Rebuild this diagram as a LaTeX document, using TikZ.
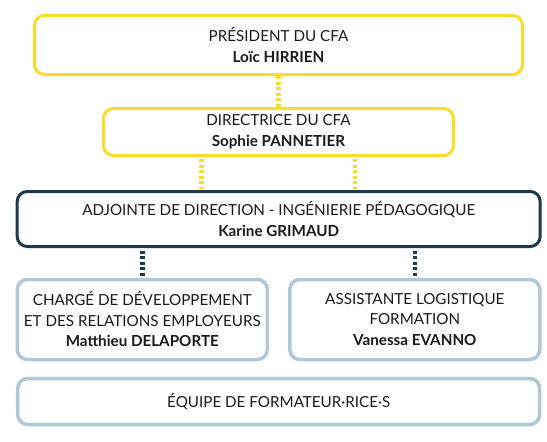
\documentclass[tikz,border=0pt]{standalone}
\usepackage{fontspec}
\setmainfont{Lato}
\usetikzlibrary{calc}
\definecolor{cyel}{HTML}{FADC2A}
\definecolor{cnavy}{HTML}{1C3A4C}
\definecolor{clight}{HTML}{AECAD6}
\definecolor{ctext}{HTML}{1A1A1A}
\tikzset{
  box/.style={rectangle, rounded corners=10pt, line width=3pt, fill=white,
    align=center, text=ctext, inner sep=0pt,
    font=\fontsize{15.2}{20.5}\selectfont},
  ybox/.style={box, draw=cyel},
  nbox/.style={box, draw=cnavy},
  lbox/.style={box, draw=clight, line width=3.5pt},
  ydot/.style={draw=cyel, line width=4.5pt, dash pattern=on 3pt off 2.5pt},
  ndot/.style={draw=cnavy, line width=4.5pt, dash pattern=on 3pt off 2.5pt},
}
\begin{document}
\begin{tikzpicture}[x=1pt,y=-1pt]
\useasboundingbox (0,0) rectangle (547,442);
\node[ybox, minimum width=488pt, minimum height=59pt] (b1) at (278.5,45)
  {PRÉSIDENT DU CFA\\\textbf{Loïc HIRRIEN}};
\node[ybox, minimum width=350pt, minimum height=47pt] (b2) at (278.5,132)
  {DIRECTRICE DU CFA\\\textbf{Sophie PANNETIER}};
\node[nbox, minimum width=523pt, minimum height=55pt] (b3) at (278.7,219)
  {ADJOINTE DE DIRECTION - INGÉNIERIE PÉDAGOGIQUE\\\textbf{Karine GRIMAUD}};
\node[lbox, minimum width=250pt, minimum height=80pt] (b4) at (142.3,319.5)
  {CHARGÉ DE DÉVELOPPEMENT\\ET DES RELATIONS EMPLOYEURS\\\textbf{Matthieu DELAPORTE}};
\node[lbox, minimum width=250pt, minimum height=80pt] (b5) at (414.8,319.5)
  {ASSISTANTE LOGISTIQUE\\FORMATION\\\textbf{Vanessa EVANNO}};
\node[lbox, minimum width=522pt, minimum height=46pt] (b6) at (278.7,401.5)
  {ÉQUIPE DE FORMATEUR·RICE·S};
\draw[ydot] (b1.south) -- (b2.north);
\draw[ydot, shorten <=2pt, shorten >=1pt] ([xshift=-77pt]b2.south) -- ([xshift=-77pt]b2.south |- b3.north);
\draw[ydot, shorten <=2pt, shorten >=1pt] ([xshift=76.5pt]b2.south) -- ([xshift=76.5pt]b2.south |- b3.north);
\draw[ndot, shorten <=2.5pt, shorten >=1.5pt] (b3.south -| b4.north) -- (b4.north);
\draw[ndot, shorten <=2.5pt, shorten >=1.5pt] (b3.south -| b5.north) -- (b5.north);
\end{tikzpicture}
\end{document}
